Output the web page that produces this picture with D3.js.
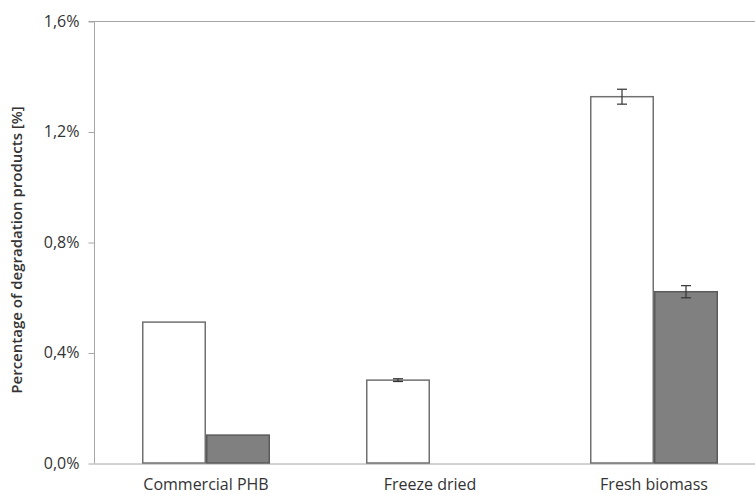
<!DOCTYPE html>
<html>
<head>
<meta charset="utf-8">
<script src="https://cdn.jsdelivr.net/npm/d3@7"></script>
<style>
  html, body { margin: 0; padding: 0; background: #fff; }
  svg { display: block; }
  text { font-family: "Open Sans", Lato, sans-serif; fill: #333; }
</style>
</head>
<body>
<svg id="chart" width="755" height="495"></svg>
<script>
const categories = ["Commercial PHB", "Freeze dried", "Fresh biomass"];
const seriesNames = ["Series A", "Series B"];
const seriesA = [0.510, 0.300, 1.326];
const seriesB = [0.101, 0.000, 0.620];
const errorsA = [0.000, 0.005, 0.027];
const errorsB = [0.000, 0.000, 0.022];
const yTicks = [0, 0.4, 0.8, 1.2, 1.6];
const yLabel = "Percentage of degradation products [%]";

const svg = d3.select("#chart");
const margin = { left: 94, top: 21, bottom: 32 };
const plotW = 672;
const H = 495;
const x0 = margin.left, y0 = H - margin.bottom;

const x = d3.scaleBand().domain(categories).range([x0, x0 + plotW]).paddingInner(0).paddingOuter(0);
const y = d3.scaleLinear().domain([0, 1.6]).range([y0, margin.top]);
const barW = 64;

const fmt = v => d3.format(".1f")(v).replace(".", ",") + "%";

// Axes
const yAxis = d3.axisLeft(y).tickValues(yTicks).tickFormat(fmt).tickSize(6).tickPadding(9);
const gy = svg.append("g").attr("transform", `translate(${x0 + 0.5},0)`).call(yAxis);
gy.select(".domain").attr("stroke", "#a6a6a6").attr("d", `M-6,${y(1.6)+0.5}H0V${y0+0.5}`);
gy.selectAll(".tick line").attr("stroke", "#a6a6a6").attr("transform", "translate(0,0.5)");
gy.selectAll(".tick text").style("font-size", "16px").style("font-family", "'Open Sans', sans-serif").attr("fill", "#333");

// top border line
svg.append("line").attr("x1", x0).attr("x2", 755).attr("y1", y(1.6) + 0.5).attr("y2", y(1.6) + 0.5).attr("stroke", "#a6a6a6");

const xAxis = d3.axisBottom(x).tickSize(0).tickPadding(15);
const gx = svg.append("g").attr("transform", `translate(0,${y0 + 0.5})`).call(xAxis);
gx.select(".domain").attr("stroke", "#a6a6a6");
gx.selectAll(".tick text").style("font-size", "16px").attr("fill", "#333");

// Bars
const groups = svg.append("g");
categories.forEach((c, i) => {
  const cx = x(c) + x.bandwidth() / 2;
  const vals = [seriesA[i], seriesB[i]];
  const errs = [errorsA[i], errorsB[i]];
  vals.forEach((v, j) => {
    const bx = cx + (j === 0 ? -barW : 0);
    if (v > 0) {
      groups.append("rect")
        .attr("x", bx + 0.75).attr("y", y(v))
        .attr("width", barW - 1.5).attr("height", y0 - y(v))
        .attr("fill", j === 0 ? "#ffffff" : "#808080")
        .attr("stroke", j === 0 ? "#707070" : "#5a5a5a")
        .attr("stroke-width", 1.5);
    }
    if (errs[j] > 0) {
      const ex = bx + barW / 2;
      const g = groups.append("g").attr("stroke", "#333").attr("stroke-width", 1.2);
      g.append("line").attr("x1", ex).attr("x2", ex).attr("y1", y(v + errs[j])).attr("y2", y(v - errs[j]));
      g.append("line").attr("x1", ex - 5).attr("x2", ex + 5).attr("y1", y(v + errs[j])).attr("y2", y(v + errs[j]));
      g.append("line").attr("x1", ex - 5).attr("x2", ex + 5).attr("y1", y(v - errs[j])).attr("y2", y(v - errs[j]));
    }
  });
});

// Y label
svg.append("text")
  .attr("transform", `translate(22,${(y0 + margin.top) / 2 + 8}) rotate(-90)`)
  .attr("text-anchor", "middle")
  .style("font-size", "15px")
  .style("font-weight", "600")
  .attr("fill", "#222")
  .text(yLabel);
</script>
</body>
</html>
